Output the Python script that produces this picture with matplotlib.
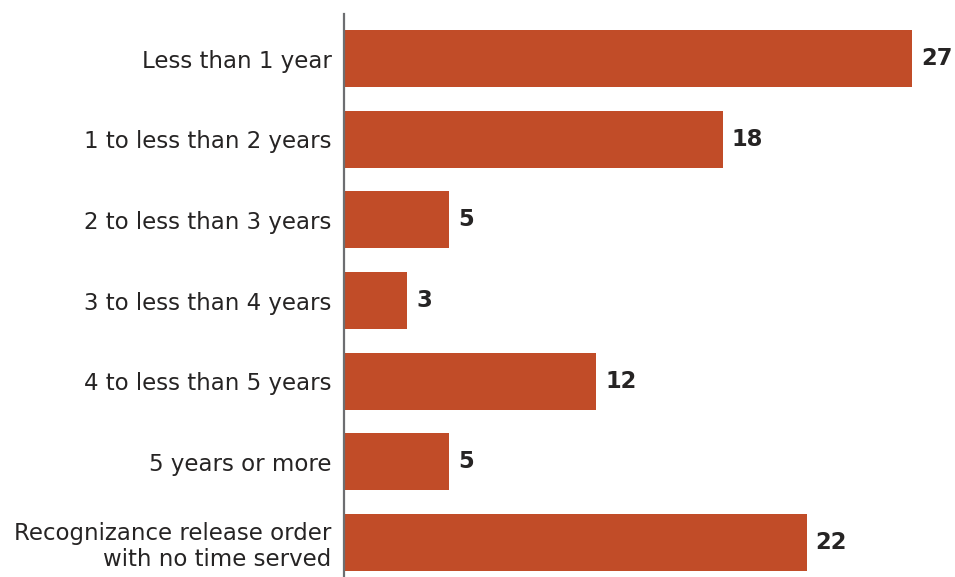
import numpy as np
import matplotlib.pyplot as plt

categories = ["Less than 1 year", "1 to less than 2 years", "2 to less than 3 years",
              "3 to less than 4 years", "4 to less than 5 years", "5 years or more",
              "Recognizance release order\nwith no time served"]
values = [27, 18, 5, 3, 12, 5, 22]

bar_color = "#C14C28"
text_color = "#262424"

fig = plt.figure(figsize=(9.55, 5.77), dpi=100)
ax = fig.add_axes([344 / 955, 0, 1 - 344 / 955, 1 - 14 / 577])

y = np.arange(len(categories))
ax.barh(y, values, height=0.707, color=bar_color)

# value labels just past the end of each bar
for yi, v in zip(y, values):
    ax.text(v + 0.42, yi, str(v), va="center", ha="left",
            fontsize=16.3, fontweight="bold", color=text_color, family="DejaVu Sans")

ax.set_yticks(y)
ax.set_yticklabels(categories, fontsize=16.5, color=text_color, family="DejaVu Sans",
                   ha="right", linespacing=1.15)
ax.tick_params(axis="y", length=0, pad=9)
ax.set_xticks([])

ax.set_xlim(0, 29.04)
ax.set_ylim(6.427, -0.552)

for side in ["top", "right", "bottom"]:
    ax.spines[side].set_visible(False)
ax.spines["left"].set_color("#6d6e71")
ax.spines["left"].set_linewidth(1.6)

fig.savefig("out.png", dpi=100)
